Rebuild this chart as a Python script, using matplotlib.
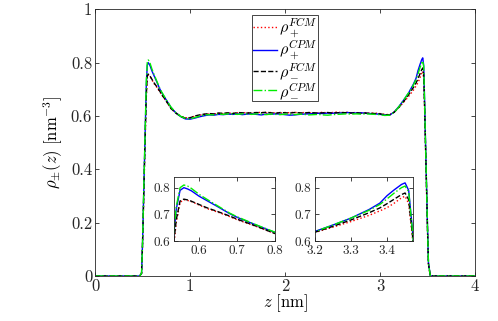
import matplotlib
matplotlib.use("Agg")
import matplotlib.pyplot as plt

plt.rcParams['font.family'] = 'cmr10'
plt.rcParams['mathtext.fontset'] = 'cm'
plt.rcParams['axes.formatter.use_mathtext'] = True
plt.rcParams['axes.unicode_minus'] = False

z = [0.0, 0.47, 0.49, 0.50, 0.51, 0.52, 0.53, 0.54, 0.55, 0.56, 0.57, 0.58, 0.60, 0.62, 0.65, 0.68, 0.70,
     0.75, 0.80, 0.85, 0.90, 0.95,
     1.00, 1.05, 1.10, 1.15, 1.20, 1.25, 1.30, 1.35, 1.40, 1.45, 1.50, 1.55, 1.60, 1.65, 1.70, 1.75,
     1.80, 1.85, 1.90, 1.95, 2.00, 2.05, 2.10, 2.15, 2.20, 2.25, 2.30, 2.35, 2.40, 2.45, 2.50, 2.55,
     2.60, 2.65, 2.70, 2.75, 2.80, 2.85, 2.90, 2.95, 3.00,
     3.05, 3.10, 3.15, 3.20, 3.25, 3.30, 3.35, 3.38, 3.40, 3.42, 3.44, 3.45, 3.46, 3.47, 3.48, 3.49,
     3.50, 3.51, 3.53, 4.0]

rho_p_fcm = [0, 0, 0.01, 0.11, 0.25, 0.40, 0.54, 0.67, 0.745, 0.755, 0.752, 0.748, 0.735, 0.722, 0.708, 0.692, 0.680,
             0.655, 0.628, 0.612, 0.600, 0.593,
             0.594, 0.599, 0.603, 0.606, 0.608, 0.607, 0.610, 0.609, 0.611, 0.610, 0.612, 0.611, 0.613, 0.610, 0.612, 0.614,
             0.611, 0.613, 0.612, 0.611, 0.613, 0.612, 0.614, 0.611, 0.613, 0.612, 0.610, 0.612, 0.614, 0.611, 0.613, 0.615,
             0.612, 0.614, 0.612, 0.613, 0.611, 0.612, 0.610, 0.611, 0.609,
             0.606, 0.605, 0.615, 0.632, 0.652, 0.673, 0.696, 0.713, 0.725, 0.742, 0.762, 0.768, 0.740, 0.620, 0.470, 0.320,
             0.170, 0.04, 0, 0]

rho_p_cpm = [0, 0, 0.01, 0.12, 0.27, 0.42, 0.57, 0.72, 0.79, 0.80, 0.795, 0.788, 0.768, 0.752, 0.728, 0.703, 0.689,
             0.660, 0.632, 0.612, 0.598, 0.589,
             0.588, 0.592, 0.597, 0.601, 0.604, 0.603, 0.606, 0.605, 0.607, 0.606, 0.608, 0.605, 0.607, 0.608, 0.606, 0.604,
             0.607, 0.606, 0.608, 0.607, 0.605, 0.603, 0.604, 0.606, 0.607, 0.608, 0.609, 0.610, 0.609, 0.611, 0.610, 0.612,
             0.611, 0.613, 0.612, 0.611, 0.612, 0.610, 0.609, 0.608, 0.606,
             0.604, 0.603, 0.615, 0.636, 0.660, 0.686, 0.718, 0.742, 0.770, 0.792, 0.812, 0.818, 0.790, 0.650, 0.490, 0.340,
             0.185, 0.05, 0, 0]

rho_m_fcm = [0, 0, 0.01, 0.12, 0.26, 0.41, 0.55, 0.68, 0.75, 0.757, 0.754, 0.749, 0.737, 0.725, 0.710, 0.694, 0.682,
             0.656, 0.628, 0.611, 0.599, 0.592,
             0.593, 0.600, 0.604, 0.607, 0.609, 0.608, 0.611, 0.610, 0.612, 0.609, 0.613, 0.612, 0.611, 0.612, 0.613, 0.612,
             0.614, 0.612, 0.610, 0.613, 0.612, 0.611, 0.613, 0.612, 0.611, 0.613, 0.612, 0.611, 0.612, 0.613, 0.611, 0.612,
             0.613, 0.612, 0.611, 0.612, 0.610, 0.611, 0.610, 0.609, 0.608,
             0.605, 0.604, 0.614, 0.633, 0.655, 0.679, 0.706, 0.724, 0.740, 0.757, 0.774, 0.780, 0.755, 0.630, 0.480, 0.330,
             0.180, 0.045, 0, 0]

rho_m_cpm = [0, 0, 0.01, 0.12, 0.28, 0.43, 0.58, 0.73, 0.80, 0.81, 0.806, 0.797, 0.775, 0.757, 0.731, 0.705, 0.691,
             0.661, 0.633, 0.613, 0.599, 0.591,
             0.589, 0.594, 0.599, 0.603, 0.605, 0.604, 0.607, 0.606, 0.608, 0.607, 0.606, 0.608, 0.607, 0.606, 0.608, 0.607,
             0.605, 0.607, 0.606, 0.605, 0.607, 0.606, 0.605, 0.607, 0.606, 0.604, 0.605, 0.606, 0.604, 0.603, 0.605, 0.606,
             0.607, 0.608, 0.607, 0.608, 0.607, 0.608, 0.607, 0.606, 0.605,
             0.602, 0.603, 0.614, 0.635, 0.660, 0.686, 0.715, 0.737, 0.758, 0.780, 0.800, 0.806, 0.785, 0.645, 0.485, 0.335,
             0.182, 0.048, 0, 0]

labels = [r'$\rho_+^{FCM}$', r'$\rho_+^{CPM}$', r'$\rho_-^{FCM}$', r'$\rho_-^{CPM}$']
series = [rho_p_fcm, rho_p_cpm, rho_m_fcm, rho_m_cpm]
colors = ['#ff0000', '#0000ff', '#000000', '#00ee00']
styles = [':', '-', '--', '-.']

main_xticks = [0, 1, 2, 3, 4]
main_yticks = [0, 0.2, 0.4, 0.6, 0.8, 1]
main_yticklabels = ['0', '0.2', '0.4', '0.6', '0.8', '1']
inset1_xticks = [0.6, 0.7, 0.8]
inset2_xticks = [3.2, 3.3, 3.4]
inset_yticks = [0.6, 0.7, 0.8]

fig = plt.figure(figsize=(4.98, 3.21), dpi=100)
ax = fig.add_axes([0.1908, 0.1402, 0.7630, 0.8308])

def style_axes(a, size, pad=2):
    a.tick_params(direction='in', top=True, right=True, labelsize=size, colors='#262626',
                  length=3, width=0.6, pad=pad)
    for s in a.spines.values():
        s.set_color('#262626')
        s.set_linewidth(0.6)

for y, c, ls, lab in zip(series, colors, styles, labels):
    ax.plot(z, y, color=c, ls=ls, lw=1.0, label=lab)
ax.set_xlim(0, 4)
ax.set_ylim(0, 1)
ax.set_xticks(main_xticks)
ax.set_xticklabels([str(t) for t in main_xticks])
ax.set_yticks(main_yticks)
ax.set_yticklabels(main_yticklabels)
style_axes(ax, 12)
ax.set_xlabel(r'$z\ [\mathrm{nm}]$', fontsize=12, labelpad=-1)
ax.set_ylabel(r'$\rho_{\pm}(z)\ [\mathrm{nm}^{-3}]$', fontsize=12, labelpad=4)
leg = ax.legend(loc='upper center', bbox_to_anchor=(0.5, 0.99), fontsize=11.5, handlelength=1.5,
                handletextpad=0.15, borderpad=0.05, labelspacing=-0.05, fancybox=False, framealpha=1,
                edgecolor='#262626', borderaxespad=0.2)
leg.get_frame().set_linewidth(0.6)

ax1 = fig.add_axes([0.3494, 0.2492, 0.2028, 0.1994])
ax2 = fig.add_axes([0.6325, 0.2492, 0.1968, 0.1994])
for a, xl, xt in [(ax1, (0.534, 0.8), inset1_xticks), (ax2, (3.2, 3.472), inset2_xticks)]:
    for y, c, ls in zip(series, colors, styles):
        a.plot(z, y, color=c, ls=ls, lw=1.0)
    a.set_xlim(*xl)
    a.set_ylim(0.6, 0.84)
    a.set_xticks(xt)
    a.set_xticklabels([f'{t:g}' for t in xt])
    a.set_yticks(inset_yticks)
    a.set_yticklabels([f'{t:g}' for t in inset_yticks])
    style_axes(a, 9.5, pad=3)

fig.savefig('out.png', dpi=100)
